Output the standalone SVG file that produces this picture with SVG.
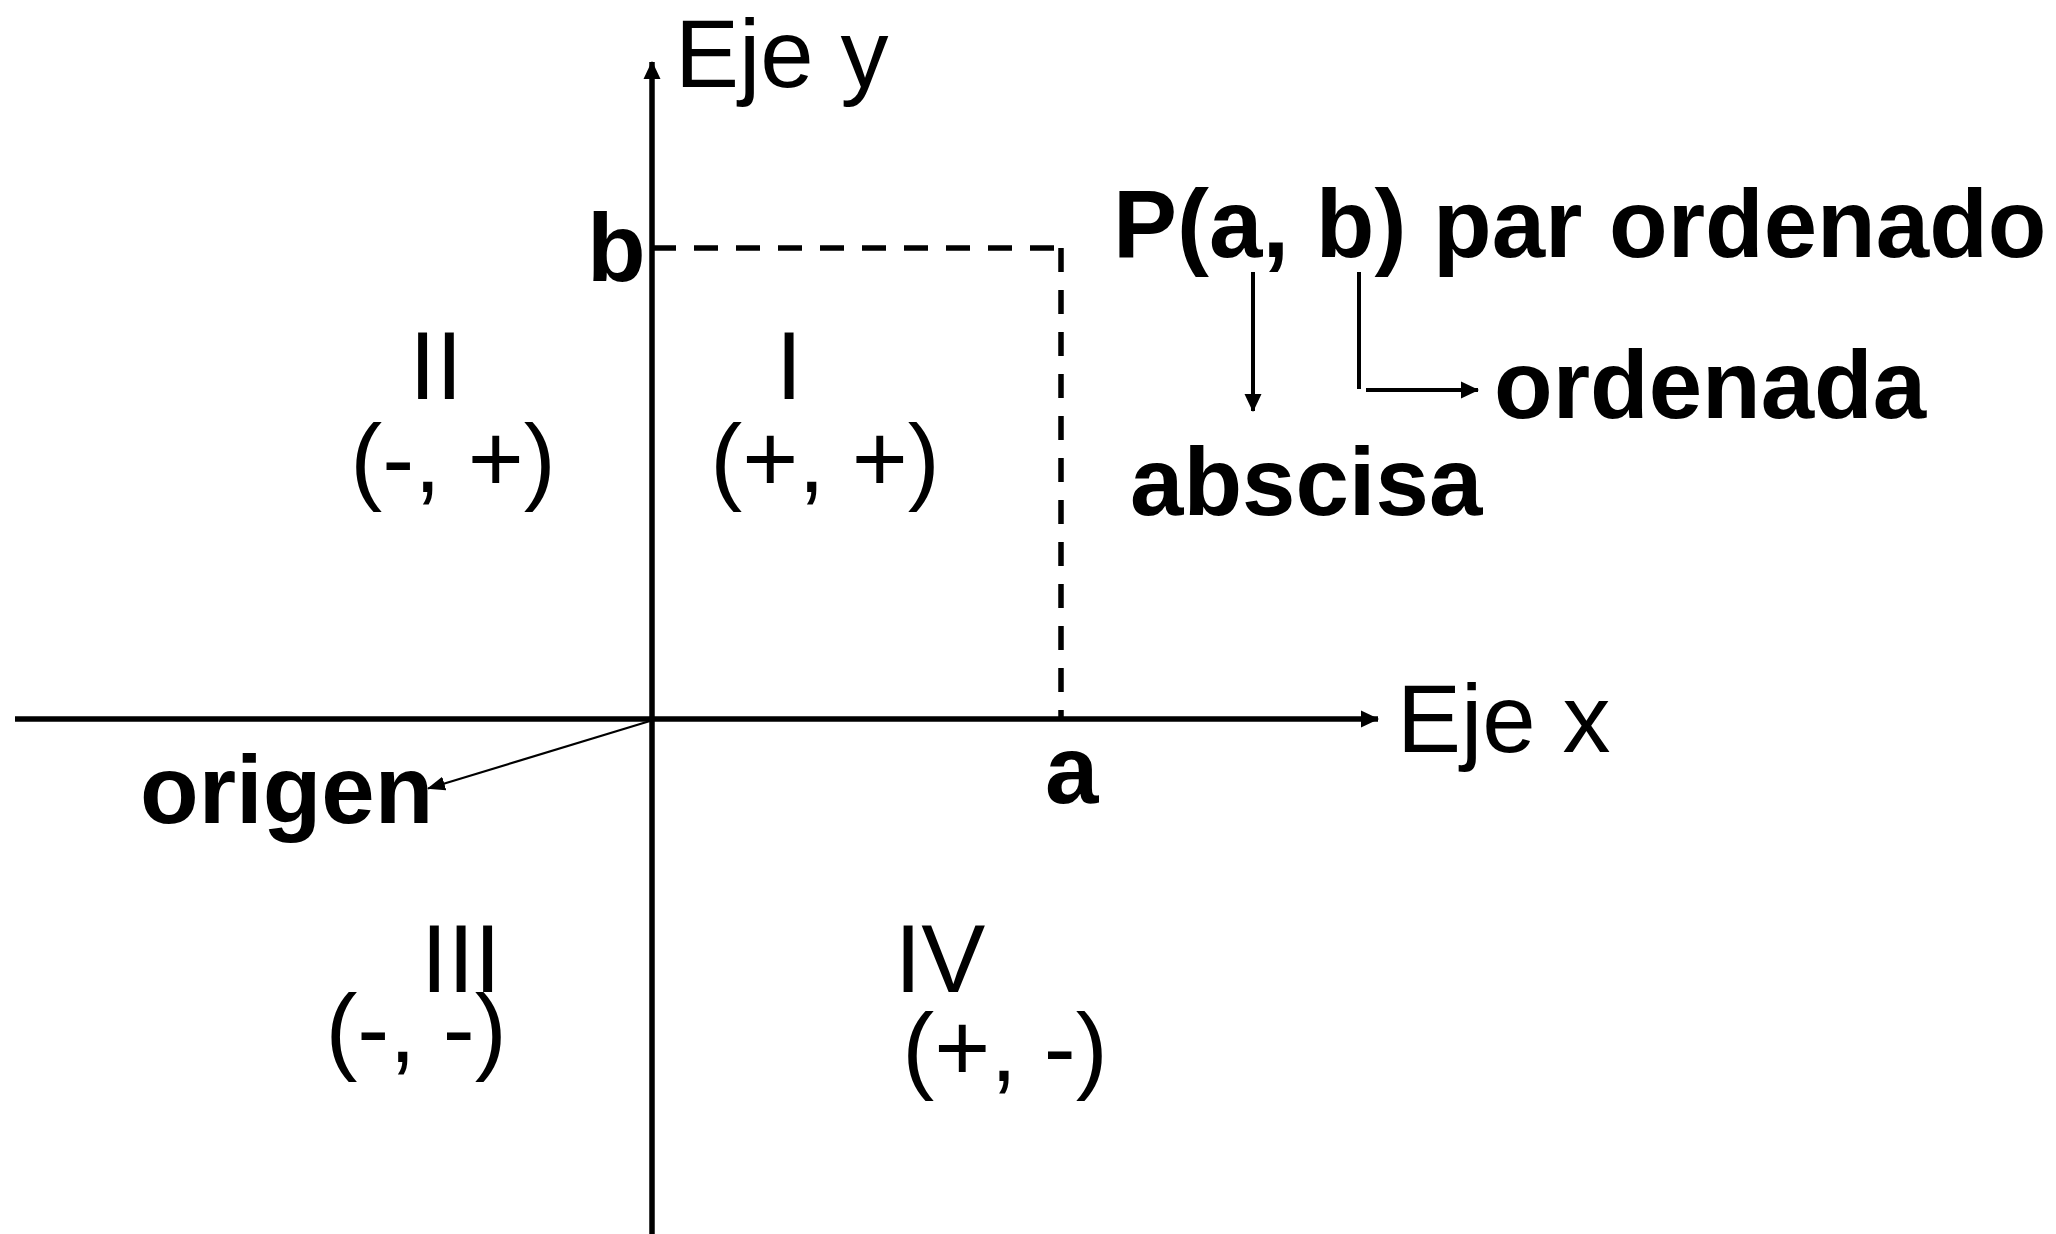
<svg xmlns="http://www.w3.org/2000/svg" width="2056" height="1234" viewBox="0 0 2056 1234">
<style>
text{font-family:"Liberation Sans",Arial,sans-serif;font-size:96px;fill:#000}
.b{font-weight:bold}
.m{text-anchor:middle}
.axis{stroke:#000;stroke-width:5.5;fill:none}
.dash{stroke:#000;stroke-width:5.5;stroke-dasharray:24 18;fill:none}
.thin{stroke:#000;stroke-width:4;fill:none}
.hair{stroke:#000;stroke-width:2.2;fill:none}
</style>
<defs>
<marker id="ah" viewBox="0 0 18 18" refX="17" refY="9" markerUnits="userSpaceOnUse" markerWidth="18" markerHeight="18" orient="auto">
<path d="M0,0.5 L18,9 L0,17.5 Z" fill="#000"/>
</marker>
<marker id="ahs" viewBox="0 0 18 16" refX="17" refY="8" markerUnits="userSpaceOnUse" markerWidth="18" markerHeight="16" orient="auto">
<path d="M0,1 L18,8 L0,15 Z" fill="#000"/>
</marker>
</defs>
<rect width="2056" height="1234" fill="#fff"/>
<g id="connectors">
<line class="axis" x1="652" y1="1234" x2="652" y2="62" marker-end="url(#ah)"/>
<line class="axis" x1="15" y1="719" x2="1378" y2="719" marker-end="url(#ah)"/>
<line class="dash" x1="652" y1="248" x2="1061" y2="248"/>
<line class="dash" x1="1061" y1="248" x2="1061" y2="719"/>
<line class="thin" x1="1253" y1="272" x2="1253" y2="411" marker-end="url(#ah)"/>
<line class="thin" x1="1359" y1="272" x2="1359" y2="389"/>
<line class="thin" x1="1366" y1="390" x2="1478" y2="390" marker-end="url(#ah)"/>
<line class="hair" x1="650" y1="721" x2="428" y2="788.5" marker-end="url(#ahs)"/>
</g>
<g id="axis-labels">
<text x="675" y="87">Eje y</text>
<text x="1397" y="752">Eje x</text>
<text class="b" x="587" y="281">b</text>
<text class="b" x="1045" y="803">a</text>
<text class="b" x="140" y="823">origen</text>
</g>
<g id="point-labels">
<text class="b" x="1113" y="257">P(a, b) par ordenado</text>
<text class="b" x="1494" y="418">ordenada</text>
<text class="b" x="1130" y="515">abscisa</text>
</g>
<g id="quadrant-I">
<text class="m" x="789" y="399">I</text>
<text class="m" x="825" y="492">(+, +)</text>
</g>
<g id="quadrant-II">
<text class="m" x="436" y="399">II</text>
<text class="m" x="453" y="492">(-, +)</text>
</g>
<g id="quadrant-III">
<text class="m" x="461" y="992">III</text>
<text class="m" x="416" y="1062">(-, -)</text>
</g>
<g id="quadrant-IV">
<text class="m" x="940" y="992">IV</text>
<text class="m" x="1005" y="1081">(+, -)</text>
</g>
</svg>
